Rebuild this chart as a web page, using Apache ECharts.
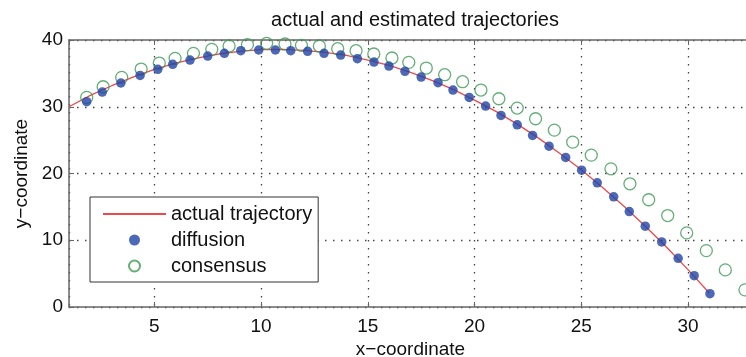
<!DOCTYPE html>
<html>
<head>
<meta charset="utf-8">
<script src="https://cdn.jsdelivr.net/npm/echarts@6/dist/echarts.min.js"></script>
<style>
html,body{margin:0;padding:0;background:#fff;}
#chart{width:746px;height:357px;}
</style>
</head>
<body>
<div id="chart"></div>
<script>
// actual trajectory (red line)
var actualX = [1,2,3,4,5,6,7,8,9,10,11,12,13,14,15,16,17,18,19,20,21,22,23,24,25,26,27,28,29,30,31];
var actualY = [30.0,31.7,33.15,34.45,35.6,36.55,37.3,37.9,38.3,38.55,38.6,38.45,38.15,37.7,37.0,36.2,35.15,33.95,32.6,31.0,29.3,27.4,25.3,23.0,20.55,17.9,15.1,12.1,8.95,5.6,2.1];
// diffusion estimates (blue dots)
var diffX = [1.83,2.56,3.43,4.33,5.16,5.86,6.67,7.5,8.28,9.05,9.89,10.67,11.39,12.18,12.95,13.73,14.51,15.29,15.99,16.74,17.5,18.29,18.99,19.75,20.52,21.24,22.0,22.72,23.49,24.27,25.02,25.75,26.52,27.25,28.0,28.77,29.54,30.29,31.03];
var diffY = [30.76,32.2,33.56,34.7,35.6,36.35,37.0,37.6,38.0,38.4,38.5,38.5,38.4,38.3,38.0,37.74,37.2,36.7,36.1,35.3,34.45,33.6,32.5,31.4,30.1,28.7,27.3,25.7,24.1,22.4,20.5,18.6,16.5,14.3,12.1,9.75,7.3,4.7,2.0];
// consensus estimates (green circles)
var consX = [1.83,2.6,3.47,4.38,5.23,5.97,6.83,7.69,8.5,9.36,10.26,11.12,11.89,12.73,13.59,14.45,15.28,16.13,16.92,17.74,18.6,19.44,20.3,21.14,22.0,22.86,23.74,24.6,25.47,26.39,27.28,28.16,29.05,29.94,30.86,31.75,32.67];
var consY = [31.4,33.0,34.4,35.65,36.55,37.25,38.0,38.6,39.1,39.3,39.5,39.4,39.2,39.1,38.7,38.4,37.9,37.3,36.65,35.8,34.8,33.75,32.5,31.2,29.8,28.2,26.5,24.7,22.75,20.7,18.46,16.07,13.7,11.1,8.45,5.56,2.57];

var titleText = 'actual and estimated trajectories';
var xName = 'x\u2212coordinate';
var yName = 'y\u2212coordinate';
var seriesNames = ['actual trajectory', 'diffusion', 'consensus'];

function pairs(xs, ys) { return xs.map(function (x, i) { return [x, ys[i]]; }); }

var FONT = '"Liberation Sans", Arial, sans-serif';
var chart = echarts.init(document.getElementById('chart'), null, {renderer: 'canvas'});
var dotted = [1.5, 6.5];
chart.setOption({
  backgroundColor: '#fff',
  animation: false,
  title: {
    text: titleText,
    left: 410, top: 5, textAlign: 'center',
    textStyle: {fontFamily: FONT, fontSize: 20, fontWeight: 'normal', color: '#111'}
  },
  grid: {left: 69, right: -6, top: 40, bottom: 50, show: false, containLabel: false, outerBoundsMode: 'none'},
  legend: {
    data: [
      {name: seriesNames[0], itemStyle: {opacity: 0}},
      {name: seriesNames[1]},
      {name: seriesNames[2]}
    ],
    orient: 'vertical',
    left: 90, top: 197,
    padding: [7, 6, 6, 12],
    itemGap: 6,
    itemWidth: 63, itemHeight: 11,
    backgroundColor: '#fff',
    borderColor: '#333', borderWidth: 1, borderRadius: 0,
    textStyle: {fontFamily: FONT, fontSize: 20, color: '#111', lineHeight: 20},
    selectedMode: false
  },
  xAxis: [{
    type: 'value', min: 1, max: 33,
    name: xName, nameLocation: 'middle', nameGap: 33, nameMoveOverlap: false,
    nameTextStyle: {fontFamily: FONT, fontSize: 19, color: '#111'},
    axisLine: {show: true, lineStyle: {color: '#666', width: 1.5}},
    axisTick: {show: true, inside: true, length: 5, lineStyle: {color: '#666'}},
    axisLabel: {fontFamily: FONT, fontSize: 19, color: '#111', margin: 10, showMinLabel: false, showMaxLabel: false},
    splitLine: {show: true, lineStyle: {color: '#444', type: dotted, width: 1.3}}
  }, {
    type: 'value', min: 1, max: 33, position: 'top',
    axisLine: {show: true, lineStyle: {color: '#666', width: 1.5}},
    axisTick: {show: true, inside: true, length: 5, lineStyle: {color: '#666'}},
    axisLabel: {show: false},
    splitLine: {show: false}
  }],
  yAxis: {
    type: 'value', min: 0, max: 40, interval: 10,
    name: yName, nameLocation: 'middle', nameGap: 38, nameMoveOverlap: false,
    nameTextStyle: {fontFamily: FONT, fontSize: 19, color: '#111'},
    axisLine: {show: true, lineStyle: {color: '#666', width: 1.5}},
    axisTick: {show: true, inside: true, length: 5, lineStyle: {color: '#666'}},
    axisLabel: {fontFamily: FONT, fontSize: 19, color: '#111', margin: 6},
    splitLine: {show: true, lineStyle: {color: '#444', type: dotted, width: 1.3}}
  },
  series: [{
    name: seriesNames[0], type: 'line', data: pairs(actualX, actualY),
    symbol: 'none', smooth: false, z: 2,
    lineStyle: {color: '#f04848', width: 1.3},
    itemStyle: {color: '#f04848'}
  }, {
    name: seriesNames[2], type: 'scatter', data: pairs(consX, consY),
    symbol: 'circle', symbolSize: 12, z: 3,
    itemStyle: {color: 'rgba(0,0,0,0)', borderColor: '#3d9a55', borderWidth: 1.3}
  }, {
    name: seriesNames[1], type: 'scatter', data: pairs(diffX, diffY),
    symbol: 'circle', symbolSize: 9.5, z: 4,
    itemStyle: {color: '#1f44a6'}
  }]
});
</script>
</body>
</html>
